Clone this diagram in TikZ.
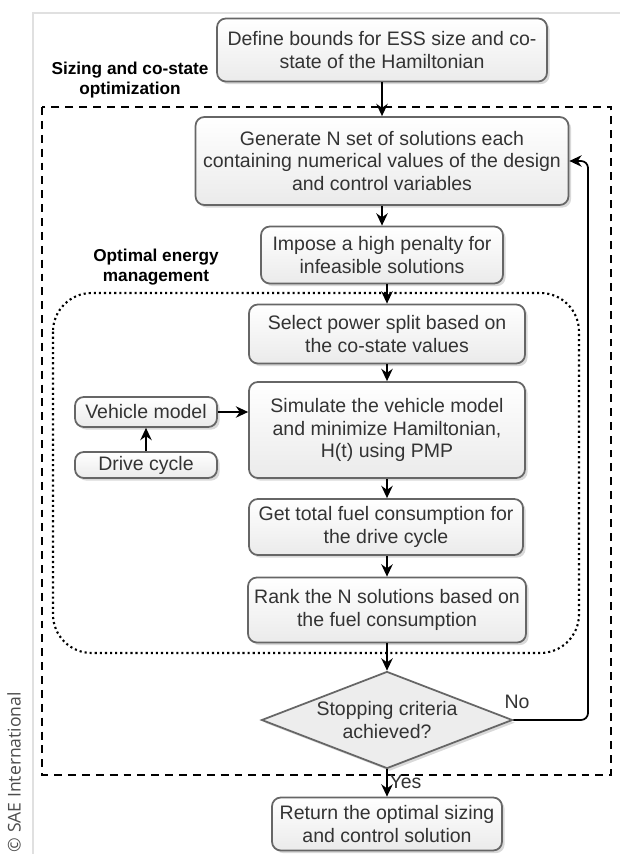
\documentclass[tikz,border=0pt]{standalone}
\usepackage{fontspec}
\setmainfont{Liberation Sans}
\newfontfamily\saefont{Open Sans}
\usetikzlibrary{arrows.meta,shapes.geometric,shadows}

\begin{document}
\begin{tikzpicture}[
    >={Stealth[length=7pt,width=6.5pt]}, thick,
    x=0.02cm, y=-0.02cm,
    box/.style={draw=black!60, line width=1pt, rounded corners=5pt,
        top color=white, bottom color=black!8,
        drop shadow={shadow xshift=1.5pt, shadow yshift=-1.5pt, opacity=0.3},
        align=center, inner sep=2pt, text=black!80,
        font=\fontsize{11.1}{12.8}\selectfont},
    decision/.style={diamond, aspect=2.6, inner sep=0pt, draw=black!60,
        line width=1pt, fill=black!7,
        drop shadow={shadow xshift=1.5pt, shadow yshift=-1.5pt, opacity=0.3},
        align=center, text=black!80, font=\fontsize{11.1}{12.8}\selectfont},
    flow/.style={->, line width=1pt},
    tag/.style={align=center, font=\bfseries\fontsize{9.8}{11.3}\selectfont},
    txt/.style={text=black!80, font=\fontsize{11.1}{12.8}\selectfont},
]
    \useasboundingbox (0, 0) rectangle (620, 854);

    %% page edge
    \draw [black!12, line width=1pt] (33, 854) -- (33, 13) -- (620, 13);
    \node [rotate=90, text=black!70, font=\saefont\fontsize{10}{12}\selectfont]
        (sae) at (14, 772) {© SAE International};

    % frames
    \draw [line width=1.2pt, dash pattern=on 4.5pt off 3.4pt] (42, 107) rectangle (611, 775);
    \draw [line width=1.2pt, dash pattern=on 1.2pt off 1.7pt, rounded corners=22pt]
        (53, 293) rectangle (579, 653);
    \node [tag] (sizing) at (130, 80) {Sizing and co-state\\optimization};
    \node [tag] (energy) at (156, 267) {Optimal energy\\management};

    % main column
    \node [box, minimum width=6.6cm, minimum height=1.26cm] (bounds) at (382, 50)
        {Define bounds for ESS size and co-\\state of the Hamiltonian};
    \node [box, minimum width=7.46cm, minimum height=1.76cm] (gen) at (382, 161)
        {Generate N set of solutions each\\containing numerical values of the design\\and control variables};
    \node [box, minimum width=4.84cm, minimum height=1.14cm] (pen) at (382, 255)
        {Impose a high penalty for\\infeasible solutions};
    \node [box, minimum width=5.52cm, minimum height=1.18cm] (split) at (387, 334)
        {Select power split based on\\the co-state values};
    \node [box, minimum width=5.52cm, minimum height=1.92cm] (sim) at (387, 430)
        {Simulate the vehicle model\\and minimize Hamiltonian,\\H(t) using PMP};
    \node [box, minimum width=5.48cm, minimum height=1.12cm] (fuel) at (386, 527)
        {Get total fuel consumption for\\the drive cycle};
    \node [box, minimum width=5.56cm, minimum height=1.3cm] (rank) at (387, 610)
        {Rank the N solutions based on\\the fuel consumption};
    \node [decision, minimum width=5.02cm, minimum height=1.94cm] (stop) at (387, 720)
        {Stopping criteria\\achieved?};
    \node [box, minimum width=4.6cm, minimum height=1.06cm] (ret) at (387, 824)
        {Return the optimal sizing\\and control solution};

    % side inputs
    \node [box, minimum width=2.84cm, minimum height=0.6cm] (veh) at (146, 412) {Vehicle model};
    \node [box, minimum width=2.84cm, minimum height=0.52cm] (drv) at (146, 465) {Drive cycle};

    %% arrows
    \draw [flow] (bounds) -- (gen);
    \draw [flow] (gen) -- (pen);
    \draw [flow] (pen.south -| split) -- (split);
    \draw [flow] (split) -- (sim);
    \draw [flow] (sim) -- (fuel.north -| sim);
    \draw [flow] (fuel.south -| rank) -- (rank);
    \draw [flow] (rank) -- (stop);
    \draw [flow] (stop) -- (ret) node [pos=0.45, right, txt, inner sep=1pt] {Yes};
    \draw [flow] (drv) -- (veh);
    \draw [flow] (veh.east) -- (veh.east -| sim.west);

    \coordinate (back) at (588, 161);
    \draw [flow, rounded corners=4pt] (stop.east) -| (back) -- (gen.east);
    \node [txt] (no) at (517, 702) {No};
\end{tikzpicture}
\end{document}
